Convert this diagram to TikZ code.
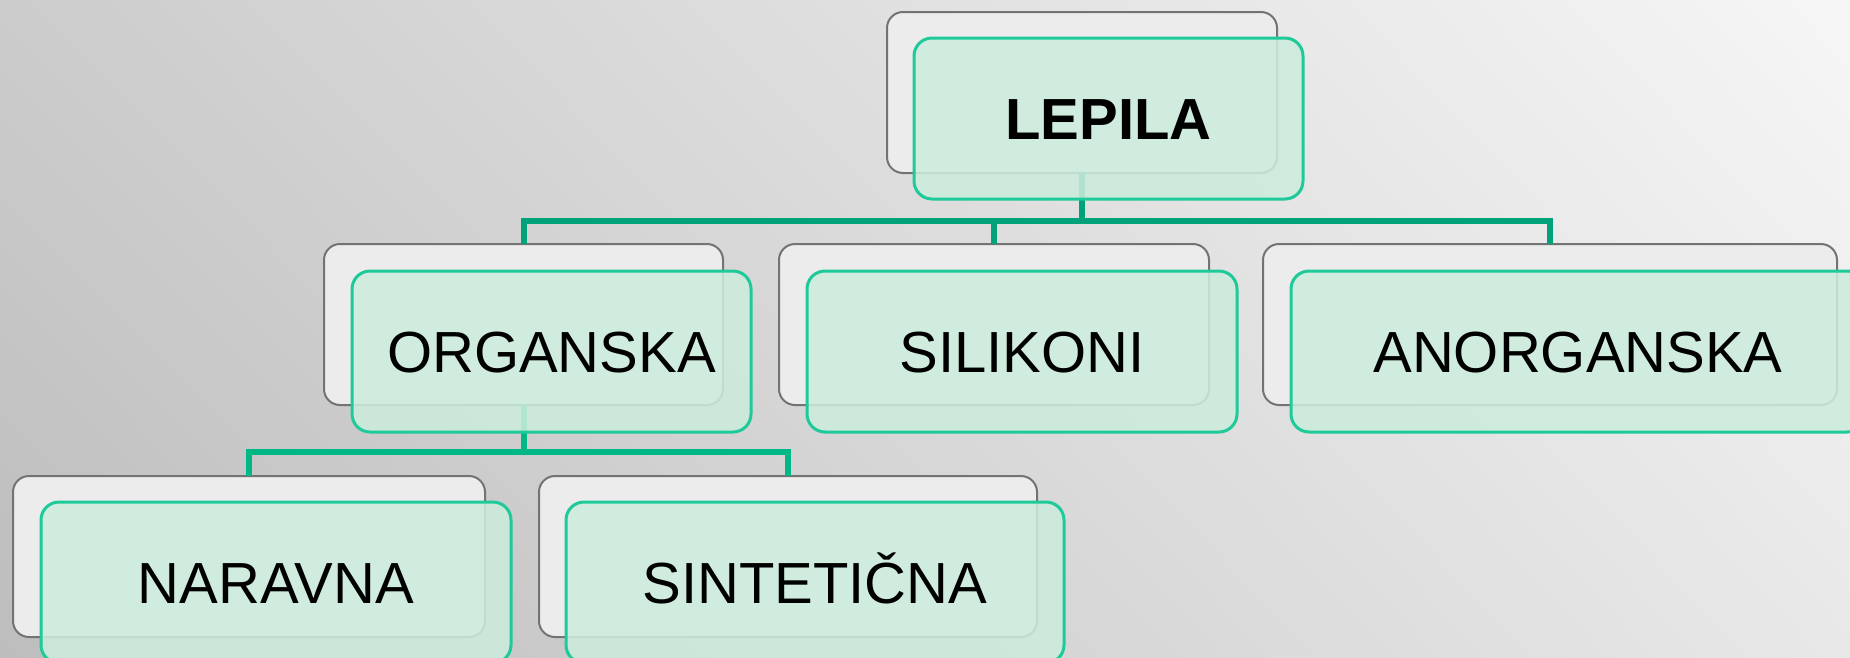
\documentclass[tikz,border=0pt]{standalone}
\usepackage{fontspec}
\setmainfont{Liberation Sans}
\usetikzlibrary{shadings}
\definecolor{bgTL}{HTML}{CCCCCC}
\definecolor{bgTR}{HTML}{F6F6F6}
\definecolor{bgBL}{HTML}{BDBDBD}
\definecolor{bgBR}{HTML}{E8E8E8}
\definecolor{backfill}{HTML}{ECECEC}
\definecolor{backedge}{HTML}{737373}
\definecolor{frontfill}{HTML}{CBECDC}
\definecolor{frontedge}{HTML}{1EC99A}
\definecolor{busone}{HTML}{00A27A}
\definecolor{bustwo}{HTML}{00B886}
\tikzset{
  backbox/.style={draw=backedge, line width=2, fill=backfill, rounded corners=16,
    anchor=north west, minimum height=161, inner sep=0, outer sep=0},
  frontbox/.style={draw=frontedge, line width=3, fill=frontfill, fill opacity=0.87,
    text opacity=1, rounded corners=18, anchor=north west, minimum height=161,
    inner sep=0, outer sep=0, text height=41.5, text depth=0,
    font=\fontsize{58}{60}\selectfont},
  busA/.style={draw=busone, line width=6, line join=miter},
  busB/.style={draw=bustwo, line width=6, line join=miter}
}
\begin{document}
\begin{tikzpicture}[x=1pt,y=-1pt]
\useasboundingbox (0,0) rectangle (1850,657);
\clip (0,0) rectangle (1850,657);
\shade[upper left=bgTL, upper right=bgTR, lower left=bgBL, lower right=bgBR]
  (0,0) rectangle (1850,657);
% back boxes
\node[backbox, minimum width=390] (lepB) at (887,12) {};
\node[backbox, minimum width=399] (orgB) at (324,244) {};
\node[backbox, minimum width=430] (silB) at (779,244) {};
\node[backbox, minimum width=574] (anoB) at (1263,244) {};
\node[backbox, minimum width=472] (narB) at (13,476) {};
\node[backbox, minimum width=498] (sinB) at (539,476) {};
% connectors
\coordinate (busa) at (0,221);
\coordinate (busb) at (0,452);
\draw[busA] (lepB.south) -- (lepB.south |- busa) -| (orgB.north);
\draw[busA] (lepB.south |- busa) -| (silB.north);
\draw[busA] (lepB.south |- busa) -| (anoB.north);
\draw[busB] (orgB.south) -- (orgB.south |- busb) -| (narB.north);
\draw[busB] (orgB.south |- busb) -| (sinB.north);
% front boxes
\node[frontbox, minimum width=389, font=\bfseries\fontsize{58}{60}\selectfont] (lep) at (914,38) {LEPILA};
\node[frontbox, minimum width=399] (org) at (352,271) {ORGANSKA};
\node[frontbox, minimum width=430] (sil) at (807,271) {SILIKONI};
\node[frontbox, minimum width=574] (ano) at (1291,271) {ANORGANSKA};
\node[frontbox, minimum width=470] (nar) at (41,502) {NARAVNA};
\node[frontbox, minimum width=498] (sin) at (566,502) {SINTETIČNA};
\end{tikzpicture}
\end{document}
